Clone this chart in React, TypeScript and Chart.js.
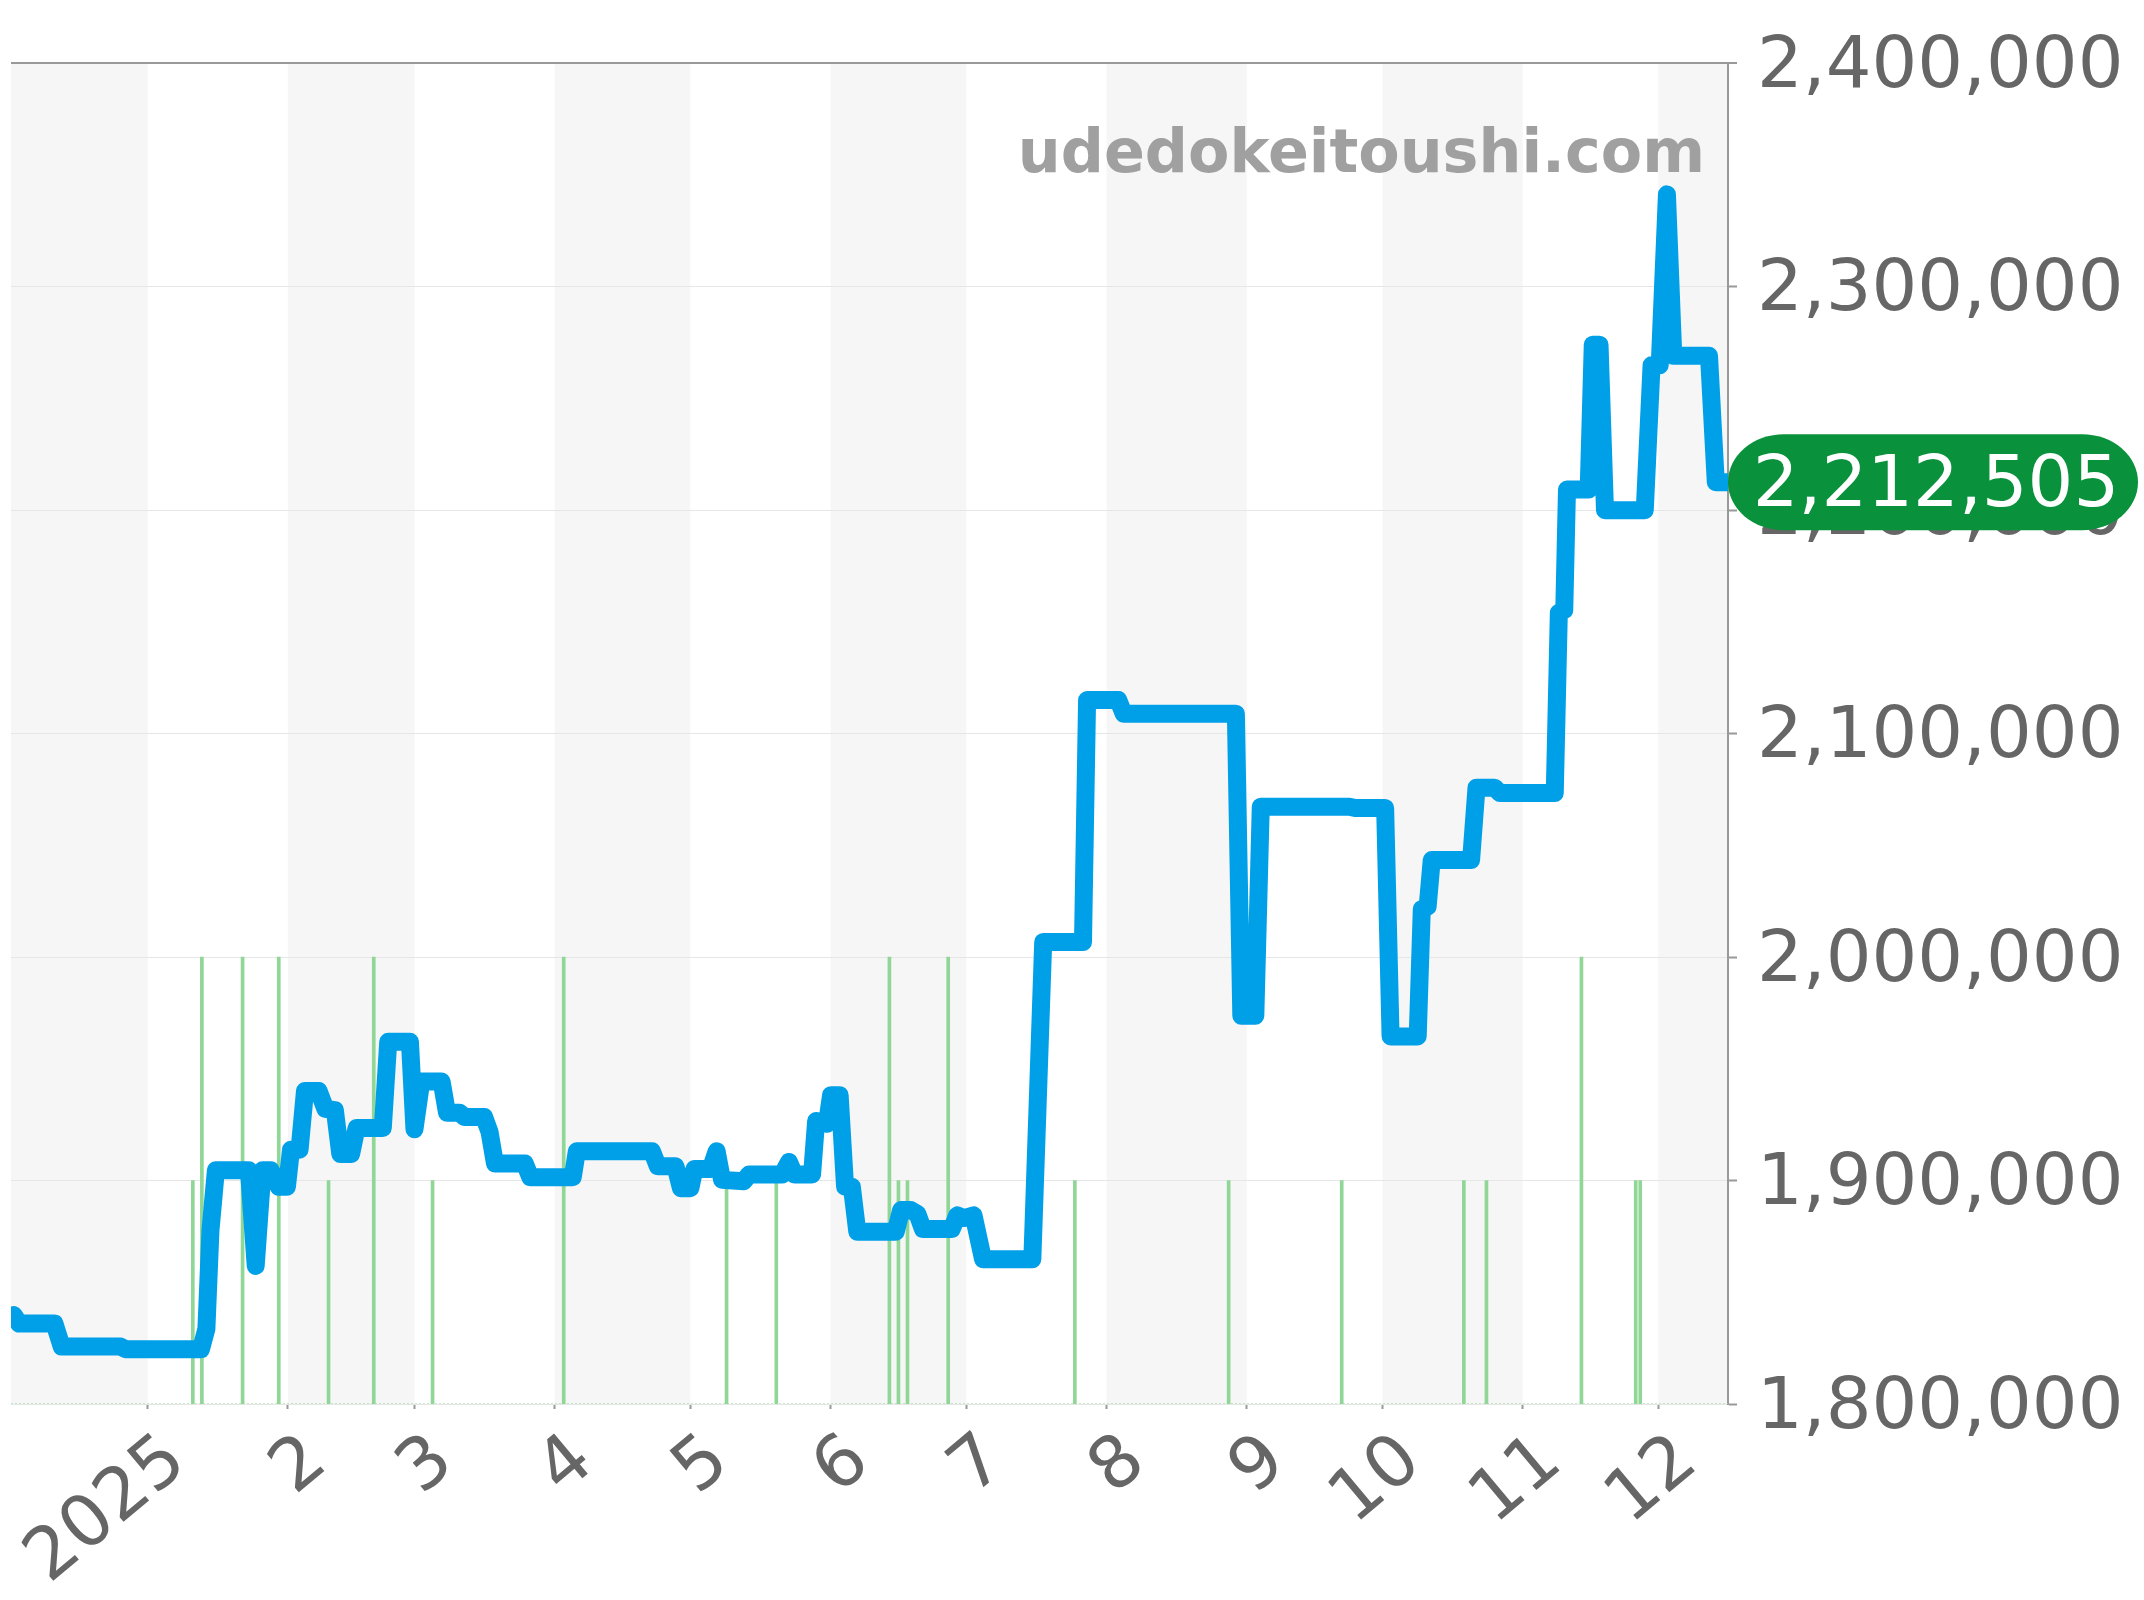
import { useEffect, useRef } from "react";
import Chart from "chart.js/auto";

// x values are days counted from 2024-12-01
const monthDays = [31, 62, 90, 121, 151, 182, 212, 243, 274, 304, 335, 365];
const monthLabels = ["2025", "2", "3", "4", "5", "6", "7", "8", "9", "10", "11", "12"];
const xMin = 0.8;
const xMax = 380.4;

const bandStarts = [0.8, 62, 121, 182, 243, 304, 365];
const bandEnds = [31, 90, 151, 212, 274, 335, 380.4];

const priceDays = [
  1.4, 2.6, 10.4, 12, 25, 26.2, 42.8, 44, 44.9, 46.1, 53.4, 54.9, 56.4, 58.2, 60, 61.8, 62.7, 64.6, 65.8, 68.8,
  70.3, 72.4, 73.6, 76, 77.2, 83, 84.2, 89, 90, 91.5, 96, 97.2, 100, 101.1, 105.4, 106.6, 107.8, 114.4, 115.6, 125,
  125.9, 142.5, 143.8, 147.7, 148.9, 151, 151.9, 155.5, 156.8, 158, 162.8, 164, 171.3, 172.8, 174, 177.9, 178.8,
  181.2, 182.1, 184, 185.2, 186.7, 187.9, 196.4, 197.6, 199.7, 201.2, 202.4, 208.8, 210, 211.5, 213.6, 215.7, 226.6,
  229, 237.8, 238.7, 245.6, 246.8, 271.6, 272.8, 275.9, 277.1, 296.7, 298, 304.6, 305.8, 311.8, 312.7, 314, 314.9,
  323.6, 324.8, 328.8, 330, 342.1, 343, 344.2, 344.8, 349.6, 350.5, 352, 353.2, 362, 363.5, 365.3, 366.9, 368.3,
  376.2, 377.7, 380.4,
];
const prices = [
  1839800, 1836000, 1836000, 1825700, 1825700, 1824500, 1824500, 1833600, 1877700, 1904600, 1904600, 1861800,
  1904600, 1904600, 1897200, 1897200, 1913800, 1913800, 1940100, 1940100, 1932100, 1931500, 1911900, 1911900,
  1923500, 1923500, 1962100, 1962100, 1922900, 1944300, 1944300, 1930300, 1930300, 1928400, 1928400, 1921700,
  1907600, 1907600, 1901500, 1901500, 1913100, 1913100, 1906400, 1906400, 1896600, 1896600, 1905200, 1905200,
  1913100, 1900300, 1899700, 1902700, 1902700, 1908300, 1902700, 1902700, 1926600, 1925400, 1938200, 1938200,
  1897200, 1897200, 1877100, 1877100, 1886800, 1886800, 1885000, 1878300, 1878300, 1884400, 1883200, 1884400,
  1864800, 1864800, 2006700, 2006700, 2115000, 2115000, 2108900, 2108900, 1973700, 1973700, 2067300, 2067300,
  2066700, 2066700, 1964500, 1964500, 2021400, 2022600, 2043400, 2043400, 2075800, 2075800, 2073400, 2073400,
  2154100, 2155300, 2209200, 2209200, 2274000, 2274000, 2200000, 2200000, 2264800, 2264800, 2341300, 2269100,
  2269100, 2212505, 2212505,
];

const tallBarDays = [43, 52, 60, 81, 123, 195, 208, 348];
const shortBarDays = [41, 71, 94, 159, 170, 197, 199, 236, 270, 295, 322, 327, 360, 361];
const tallBarValue = 2000000;
const shortBarValue = 1900000;

const latestPrice = 2212505;
const siteName = "udedokeitoushi.com";
const fontFamily = "'DejaVu Sans'";

const overlayPlugin = {
  id: "overlay",
  beforeDraw(chart: any) {
    const { ctx, chartArea, scales } = chart;
    ctx.save();
    ctx.fillStyle = "#f6f6f6";
    bandStarts.forEach((start, i) => {
      const x0 = scales.x.getPixelForValue(start);
      const x1 = scales.x.getPixelForValue(bandEnds[i]);
      ctx.fillRect(x0, chartArea.top, x1 - x0, chartArea.bottom - chartArea.top);
    });
    ctx.restore();
  },
  afterDraw(chart: any) {
    const { ctx, chartArea, scales } = chart;
    ctx.save();
    ctx.font = `bold 60.3px ${fontFamily}`;
    ctx.fillStyle = "#a0a0a0";
    ctx.textAlign = "right";
    ctx.textBaseline = "alphabetic";
    ctx.fillText(siteName, 1705, 172);

    const y = scales.y.getPixelForValue(latestPrice);
    const left = chartArea.right;
    ctx.fillStyle = "#0a913c";
    ctx.beginPath();
    ctx.roundRect(left, y - 48, 410, 96, [{ x: 56, y: 48 }]);
    ctx.fill();
    ctx.fillStyle = "#ffffff";
    ctx.font = `72px ${fontFamily}`;
    ctx.textAlign = "center";
    ctx.textBaseline = "middle";
    ctx.fillText(latestPrice.toLocaleString("en-US"), left + 208, y + 5);
    ctx.restore();
  },
};

export default function App() {
  const canvasRef = useRef<HTMLCanvasElement | null>(null);

  useEffect(() => {
    if (!canvasRef.current) return;

    const chart = new Chart(canvasRef.current, {
      type: "line",
      data: {
        datasets: [
          {
            type: "line",
            order: 0,
            data: priceDays.map((d, i) => ({ x: d, y: prices[i] })),
            borderColor: "#00a0e9",
            borderWidth: 18,
            borderJoinStyle: "round",
            borderCapStyle: "round",
            tension: 0,
            pointRadius: 0,
          },
          {
            type: "bar",
            order: 1,
            data: [
              ...tallBarDays.map((d) => ({ x: d, y: tallBarValue })),
              ...shortBarDays.map((d) => ({ x: d, y: shortBarValue })),
            ],
            backgroundColor: "#90d696",
            barThickness: 3,
            grouped: false,
          },
          {
            type: "line",
            order: 2,
            data: [
              { x: xMin, y: 1800000 },
              { x: xMax, y: 1800000 },
            ],
            borderColor: "#90d696",
            borderWidth: 1,
            borderDash: [2, 2],
            pointRadius: 0,
          },
        ],
      } as any,
      options: {
        responsive: false,
        animation: false,
        devicePixelRatio: 1,
        layout: { padding: { top: 63, left: 11, right: 0, bottom: 0 } },
        plugins: { legend: { display: false }, tooltip: { enabled: false } },
        scales: {
          x: {
            type: "linear",
            min: xMin,
            max: xMax,
            offset: false,
            afterBuildTicks: (scale: any) => {
              scale.ticks = monthDays.map((value) => ({ value }));
            },
            afterFit: (scale: any) => {
              scale.height = 196;
              scale.paddingLeft = 0;
              scale.paddingRight = 0;
            },
            grid: { drawOnChartArea: false, offset: false, tickLength: 5, tickColor: "#999999", tickWidth: 2 },
            border: { display: false },
            ticks: {
              autoSkip: false,
              maxRotation: 40,
              minRotation: 40,
              labelOffset: 30,
              padding: 10,
              color: "#666666",
              font: { family: fontFamily, size: 72 },
              callback: (value: any) => monthLabels[monthDays.indexOf(value)],
            },
          },
          y: {
            type: "linear",
            position: "right",
            min: 1800000,
            max: 2400000,
            afterFit: (scale: any) => {
              scale.width = 416;
            },
            grid: {
              color: (c: any) => (c.tick && c.tick.value === 2400000 ? "#999999" : "#e6e6e6"),
              lineWidth: (c: any) => (c.tick && c.tick.value === 2400000 ? 2 : 1),
              tickColor: "#999999",
              tickWidth: 2,
              tickLength: 9,
            },
            border: { display: true, color: "#999999", width: 2 },
            ticks: {
              stepSize: 100000,
              padding: 20,
              labelOffset: 5,
              color: "#666666",
              font: { family: fontFamily, size: 72 },
              callback: (value: any) => Number(value).toLocaleString("en-US"),
            },
          },
        },
      },
      plugins: [overlayPlugin],
    } as any);

    return () => {
      chart.destroy();
    };
  }, []);

  return (
    <div style={{ position: "absolute", left: 0, top: 0, width: 2144, height: 1600, background: "#ffffff" }}>
      <canvas ref={canvasRef} width={2144} height={1600} style={{ display: "block" }}></canvas>
    </div>
  );
}
